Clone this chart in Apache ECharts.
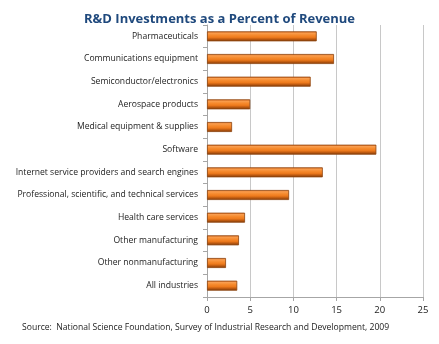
<!DOCTYPE html>
<html><head><meta charset="utf-8">
<script src="https://cdn.jsdelivr.net/npm/echarts@6/dist/echarts.min.js"></script>
<style>html,body{margin:0;padding:0;background:#fff}#c{width:439px;height:344px}</style>
</head><body><div id="c"></div>
<script>
const categories = ["Pharmaceuticals","Communications equipment","Semiconductor/electronics","Aerospace products","Medical equipment & supplies","Software","Internet service providers and search engines","Professional, scientific, and technical services","Health care services","Other manufacturing","Other nonmanufacturing","All industries"];
const values = [12.7,14.7,12.0,5.0,2.9,19.6,13.4,9.5,4.4,3.7,2.2,3.5];
const xTicks = [0,5,10,15,20,25];
const titleText = "R&D Investments as a Percent of Revenue";
const sourceText = "Source:  National Science Foundation, Survey of Industrial Research and Development, 2009";

const chart = echarts.init(document.getElementById('c'), null, {renderer:'canvas'});
const font = "'Open Sans', 'Noto Sans', sans-serif";
chart.setOption({
  animation:false,
  title:{text:titleText,left:'center',top:8,textStyle:{fontFamily:font,fontSize:13,fontWeight:'bold',color:'#1F497D'}},
  graphic:[{type:'text',left:22,top:323,style:{text:sourceText,fontFamily:font,fontSize:8.6,fill:'#222'}}],
  grid:{left:207,right:16,top:25,bottom:47,containLabel:false},
  xAxis:{type:'value',min:xTicks[0],max:xTicks[xTicks.length-1],interval:5,
    axisLine:{show:true,lineStyle:{color:'#A6A6A6'}},
    axisTick:{show:true,length:4,lineStyle:{color:'#A6A6A6'}},
    axisLabel:{fontFamily:font,fontSize:9.5,color:'#222',margin:8},
    splitLine:{show:true,lineStyle:{color:'#C8C8C8'}}},
  yAxis:{type:'category',data:categories,inverse:true,
    axisLine:{show:true,lineStyle:{color:'#A6A6A6'}},
    axisTick:{show:true,length:4,lineStyle:{color:'#A6A6A6'}},
    axisLabel:{fontFamily:font,fontSize:8.6,color:'#222',margin:9}},
  series:[{type:'bar',data:values,barWidth:10,
    itemStyle:{borderColor:'#8E440E',borderWidth:0.8,
      color:new echarts.graphic.LinearGradient(0,0,0,1,[
        {offset:0,color:'#D9661A'},{offset:0.18,color:'#F99D4E'},{offset:0.38,color:'#F68B2E'},
        {offset:0.6,color:'#EE7A1C'},{offset:0.8,color:'#B9570F'},{offset:1,color:'#7A3A0A'}])}}]
});
</script></body></html>
